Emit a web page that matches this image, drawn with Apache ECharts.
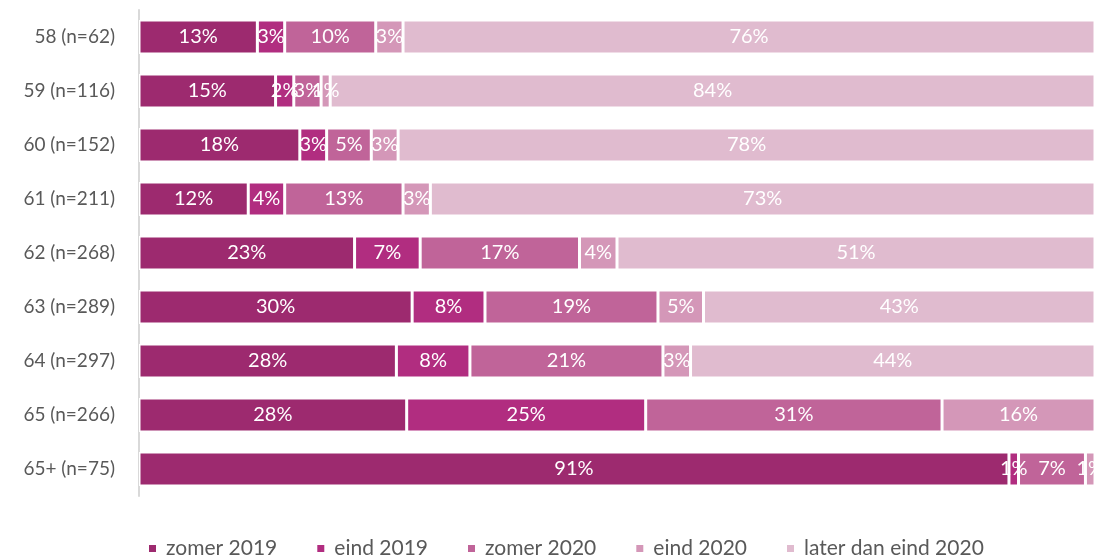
<!DOCTYPE html>
<html>
<head>
<meta charset="utf-8">
<script src="https://cdn.jsdelivr.net/npm/echarts@6/dist/echarts.min.js"></script>
<style>
  html, body { margin: 0; padding: 0; background: #fff; }
  #chart { width: 1096px; height: 557px; }
</style>
</head>
<body>
<div id="chart"></div>
<script>
// leeftijd (aantal respondenten)
const categories = ['58 (n=62)', '59 (n=116)', '60 (n=152)', '61 (n=211)', '62 (n=268)', '63 (n=289)', '64 (n=297)', '65 (n=266)', '65+ (n=75)']
const seriesNames = ['zomer 2019', 'eind 2019', 'zomer 2020', 'eind 2020', 'later dan eind 2020']
// percentages per moment, zoals in de labels
const zomer2019 = [13, 15, 18, 12, 23, 30, 28, 28, 91]
const eind2019 = [3, 2, 3, 4, 7, 8, 8, 25, 1]
const zomer2020 = [10, 3, 5, 13, 17, 19, 21, 31, 7]
const eind2020 = [3, 1, 3, 3, 4, 5, 3, 16, 1]
const laterDan2020 = [76, 84, 78, 73, 51, 43, 44, 0, 0]
const colors = ['#9d2a6f', '#b12d80', '#c06499', '#d497b8', '#e0bbcf']

const raw = [zomer2019, eind2019, zomer2020, eind2020, laterDan2020]
// 100% gestapeld: elke rij schalen naar het rijtotaal
const totals = categories.map((c, i) => raw.reduce((s, arr) => s + arr[i], 0))

const chartDom = echarts.init(document.getElementById('chart'))
const option = {
  animation: false,
  textStyle: { fontFamily: 'Lato, "Open Sans", sans-serif' },
  grid: { left: 139, right: 1, top: 10, bottom: 61 },
  legend: {
    top: 538,
    left: 147,
    padding: 0,
    itemWidth: 9,
    itemHeight: 9,
    itemGap: 38,
    icon: 'rect',
    textStyle: { color: '#595959', fontSize: 21, padding: [0, 0, 0, 4] },
    data: seriesNames
  },
  xAxis: {
    type: 'value',
    min: 0,
    max: 100,
    show: false
  },
  yAxis: {
    type: 'category',
    inverse: true,
    data: categories,
    axisTick: { show: false },
    axisLine: { lineStyle: { color: '#d9d9d9', width: 2 } },
    axisLabel: { color: '#595959', fontSize: 19, margin: 24 }
  },
  series: raw.map((arr, k) => ({
    name: seriesNames[k],
    type: 'bar',
    stack: 'totaal',
    barWidth: 34,
    itemStyle: { color: colors[k], borderColor: '#fff', borderWidth: 1.5 },
    label: {
      show: true,
      position: 'inside',
      color: '#fff',
      fontSize: 20,
      formatter: p => arr[p.dataIndex] > 0 ? arr[p.dataIndex] + '%' : ''
    },
    data: arr.map((v, i) => v / totals[i] * 100)
  }))
}
chartDom.setOption(option, true)
</script>
</body>
</html>
